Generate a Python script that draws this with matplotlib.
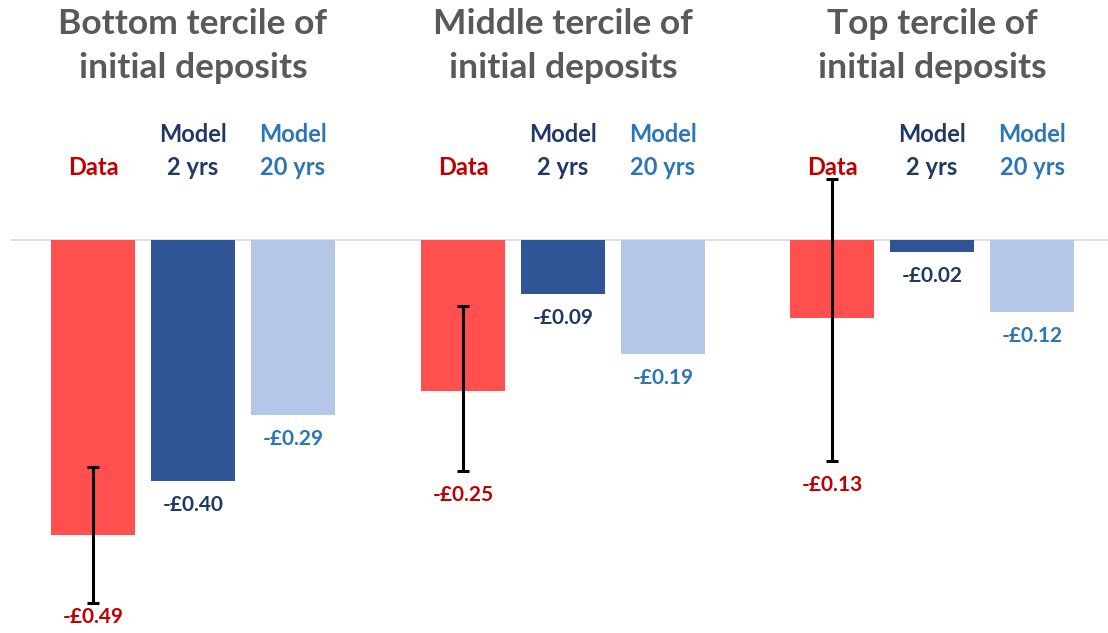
import numpy as np
import matplotlib.pyplot as plt

# Values (GBP)
series = ['Data', 'Model\n2 yrs', 'Model\n20 yrs']
data_vals = [-0.49, -0.25, -0.13]
model2_vals = [-0.40, -0.09, -0.02]
model20_vals = [-0.29, -0.19, -0.12]
err_low = [-0.603, -0.384, -0.367]
err_high = [-0.377, -0.110, 0.101]

titles = ['Bottom tercile of\ninitial deposits', 'Middle tercile of\ninitial deposits', 'Top tercile of\ninitial deposits']

bar_colors = ['#FF4F4F', '#2F5597', '#B4C7E7']
text_colors = ['#C00000', '#203864', '#2E75B6']
title_color = '#595959'

plt.rcParams['font.family'] = ['Lato', 'DejaVu Sans']
plt.rcParams['font.weight'] = 'bold'

fig = plt.figure(figsize=(11.08, 6.33), dpi=100)
ax = fig.add_axes([0, 0, 1, 1])

PX = 602.0  # pixels per unit on the y axis
def py(px):
    # convert pixel row (from top) to data y
    return (240 - px) / PX

ax.set_xlim(-0.93, 10.15)
ax.set_ylim(py(633), py(0))
ax.axis('off')

group_x = np.array([0.0, 3.7, 7.39])
all_vals = [data_vals, model2_vals, model20_vals]

ax.axhline(0, xmin=0.01, xmax=1, color='#D9D9D9', lw=1.2, zorder=1)

for g, gx in enumerate(group_x):
    for s in range(3):
        x = gx + s
        v = all_vals[s][g]
        ax.bar(x, v, width=0.84, color=bar_colors[s], zorder=2)
        low = v
        if s == 0:
            ax.errorbar(x, (err_low[g] + err_high[g]) / 2, yerr=(err_high[g] - err_low[g]) / 2,
                        fmt='none', ecolor='black', elinewidth=2.2, capsize=4, capthick=2.2, zorder=3)
            low = err_low[g]
        ly = max(low - 24 / PX, py(617))
        ax.text(x, ly, '-£%.2f' % abs(v), ha='center', va='center', fontsize=15,
                color=text_colors[s], fontweight='bold')
        ax.text(x, py(179), series[s], ha='center', va='bottom', fontsize=17,
                color=text_colors[s], fontweight='bold', linespacing=1.5, zorder=1)
    ax.text(gx + 1, py(46), titles[g], ha='center', va='center', fontsize=25.5,
            color=title_color, fontweight='bold', linespacing=1.45)

fig.savefig('out.png', dpi=100)
